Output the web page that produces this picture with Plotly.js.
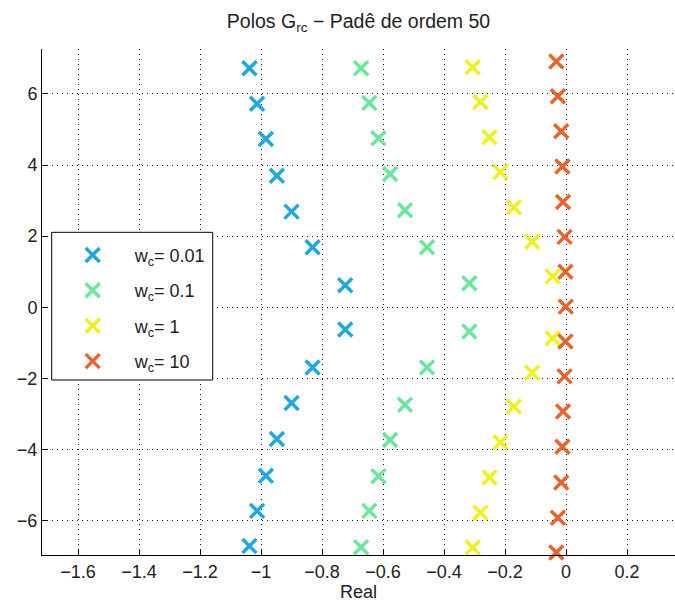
<!DOCTYPE html>
<html>
<head>
<meta charset="utf-8">
<script src="https://cdn.plot.ly/plotly-3.0.1.min.js"></script>
<style>html,body{margin:0;padding:0;background:#fff;}#chart{width:675px;height:605px;}</style>
</head>
<body>
<div id="chart"></div>
<script>
// Poles (real part, imaginary part)
const seriesNames = ["w<sub>c</sub>= 0.01", "w<sub>c</sub>= 0.1", "w<sub>c</sub>= 1", "w<sub>c</sub>= 10"];

const realWc001 = [-1.038, -1.013, -0.984, -0.948, -0.900, -0.831, -0.724, -0.724, -0.831, -0.900, -0.948, -0.984, -1.013, -1.038];
const imagWc001 = [6.72, 5.72, 4.73, 3.70, 2.69, 1.69, 0.62, -0.62, -1.69, -2.69, -3.70, -4.73, -5.72, -6.71];

const realWc01 = [-0.672, -0.645, -0.615, -0.577, -0.528, -0.456, -0.317, -0.317, -0.456, -0.528, -0.577, -0.615, -0.645, -0.672];
const imagWc01 = [6.72, 5.74, 4.75, 3.75, 2.73, 1.69, 0.68, -0.68, -1.69, -2.74, -3.73, -4.75, -5.72, -6.74];

const realWc1 = [-0.306, -0.281, -0.251, -0.215, -0.171, -0.111, -0.044, -0.044, -0.111, -0.171, -0.215, -0.251, -0.281, -0.306];
const imagWc1 = [6.75, 5.77, 4.78, 3.80, 2.81, 1.84, 0.87, -0.87, -1.84, -2.79, -3.79, -4.78, -5.77, -6.75];

const realWc10 = [-0.032, -0.027, -0.016, -0.012, -0.010, -0.005, -0.002, -0.001, -0.002, -0.005, -0.010, -0.012, -0.016, -0.027, -0.032];
const imagWc10 = [6.91, 5.93, 4.95, 3.96, 2.96, 1.98, 1.00, 0.02, -0.96, -1.94, -2.93, -3.92, -4.92, -5.91, -6.89];

const seriesColors = ["#1fa8df", "#6ce69c", "#f0f01e", "#e8642a"];
const xTicks = [-1.6, -1.4, -1.2, -1, -0.8, -0.6, -0.4, -0.2, 0, 0.2];
const yTicks = [-6, -4, -2, 0, 2, 4, 6];

const reals = [realWc001, realWc01, realWc1, realWc10];
const imags = [imagWc001, imagWc01, imagWc1, imagWc10];

const legendPad = "\u00a0";

const traces = reals.map((xs, i) => ({
  type: "scatter",
  mode: "markers",
  x: xs,
  y: imags[i],
  name: legendPad + seriesNames[i],
  legendgroup: "g" + i,
  cliponaxis: false,
  marker: {
    symbol: "x-thin-open",
    size: 14,
    color: seriesColors[i],
    line: {color: seriesColors[i], width: 3.5}
  }
}));

const fontFam = "Liberation Sans, Arial, sans-serif";
const txtColor = "#222";

const layout = {
  width: 675,
  height: 605,
  paper_bgcolor: "#fff",
  plot_bgcolor: "#fff",
  margin: {l: 42, r: 0, t: 49, b: 50},
  font: {family: fontFam, size: 18, color: txtColor},
  title: {
    text: "Polos G<sub>rc</sub> − Padê de ordem 50",
    font: {family: fontFam, size: 19.5, color: txtColor},
    x: 0.5, xref: "paper", xanchor: "center",
    y: 0.965, yref: "container", yanchor: "middle"
  },
  xaxis: {
    range: [-1.718, 0.357],
    tickvals: xTicks,
    ticktext: xTicks.map(v => (v < 0 ? "−" : "") + Math.abs(v)),
    ticks: "inside",
    ticklen: 5,
    tickcolor: "#000",
    showline: true,
    linecolor: "#000",
    linewidth: 1,
    showgrid: true,
    gridcolor: "#111",
    griddash: "1px,4px",
    gridwidth: 1,
    zeroline: false,
    mirror: false,
    title: {text: "Real", font: {family: fontFam, size: 18, color: txtColor}, standoff: 3},
    tickfont: {family: fontFam, size: 18, color: txtColor}
  },
  yaxis: {
    range: [-6.96, 7.26],
    tickvals: yTicks,
    ticktext: yTicks.map(v => (v < 0 ? "−" : "") + Math.abs(v)),
    ticks: "inside",
    ticklen: 5,
    tickcolor: "#000",
    showline: true,
    linecolor: "#000",
    linewidth: 1,
    showgrid: true,
    gridcolor: "#111",
    griddash: "1px,4px",
    gridwidth: 1,
    zeroline: false,
    mirror: false,
    tickfont: {family: fontFam, size: 18, color: txtColor}
  },
  shapes: [{
    type: "rect", xref: "paper", yref: "paper", layer: "above",
    x0: 0.0153, x1: 0.2697, y0: 0.3458, y1: 0.6377,
    line: {color: "#000", width: 1}, fillcolor: "#fff"
  }],
  showlegend: true,
  legend: {
    x: 0.0216, xref: "paper", xanchor: "left",
    y: 0.629, yref: "paper", yanchor: "top",
    bgcolor: "rgba(0,0,0,0)",
    borderwidth: 0,
    font: {family: fontFam, size: 18, color: txtColor},
    tracegroupgap: 9,
    itemwidth: 64
  }
};

Plotly.newPlot("chart", traces, layout, {displayModeBar: false, staticPlot: true});
</script>
</body>
</html>
